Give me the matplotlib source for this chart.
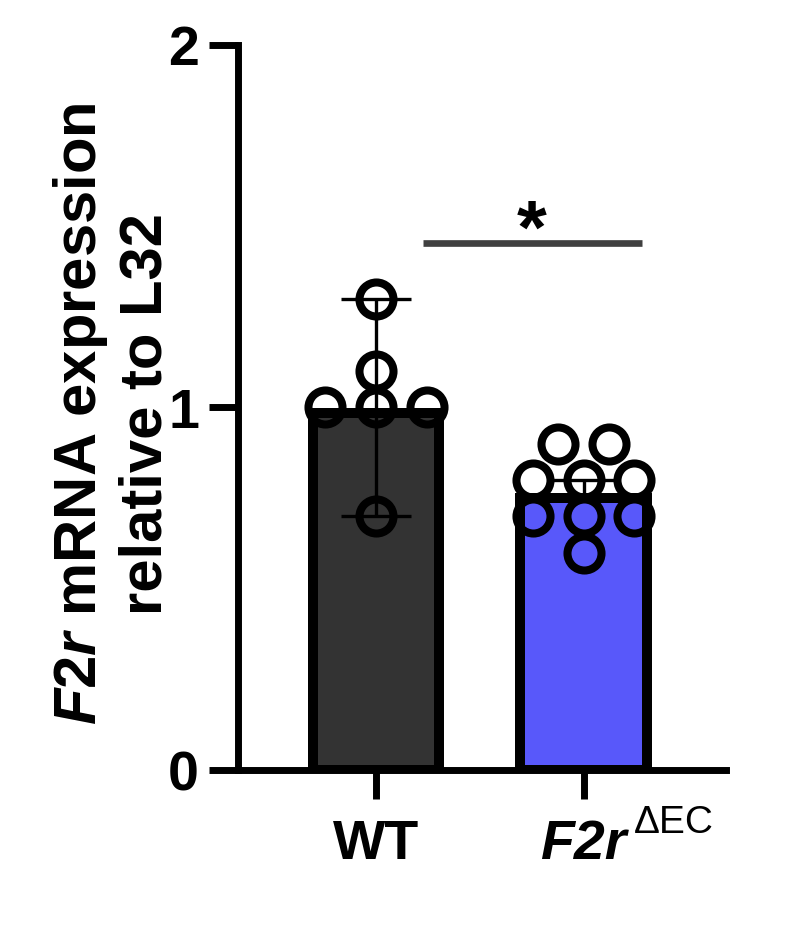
import numpy as np
import matplotlib.pyplot as plt

plt.rcParams['font.family'] = 'Liberation Sans'
plt.rcParams['font.weight'] = 'bold'
plt.rcParams['mathtext.fontset'] = 'custom'
plt.rcParams['mathtext.it'] = 'Liberation Sans:italic:bold'
plt.rcParams['mathtext.rm'] = 'Liberation Sans:bold'

# data
groups = ['WT', 'F2r']
bar_means = [0.985, 0.75]
bar_colors = ['#333333', '#5858FA']
wt_vals = [1.30, 1.10, 1.00, 1.00, 1.00, 0.70]
wt_jitter = [0, 0, -0.245, 0, 0.245, 0]
ko_vals = [0.90, 0.90, 0.80, 0.80, 0.80, 0.70, 0.70, 0.70, 0.60]
ko_jitter = [-0.123, 0.123, -0.243, 0, 0.245, -0.243, 0, 0.245, 0]
wt_err = (0.70, 1.30)
ko_err_top = 0.80
sig_y = 1.454

fig = plt.figure(figsize=(7.86, 9.30), dpi=100)
ax = fig.add_axes([238/786, 160/930, 487.7/786, 725/930])

x = np.arange(len(groups))
ax.bar(x, bar_means, width=0.61, color=bar_colors, edgecolor='black',
       linewidth=7.2, zorder=2)

# error bars (WT: both ways, KO: upward only)
ax.errorbar([x[0]], [bar_means[0]],
            yerr=[[bar_means[0] - wt_err[0]], [wt_err[1] - bar_means[0]]],
            fmt='none', ecolor='black', elinewidth=2.4, capsize=25,
            capthick=2.4, zorder=3)
ax.errorbar([x[1]], [bar_means[1]],
            yerr=[[0], [ko_err_top - bar_means[1]]],
            fmt='none', ecolor='black', elinewidth=2.4, capsize=23,
            capthick=2.4, zorder=3)

# individual points
ax.plot(x[0] + np.array(wt_jitter), wt_vals, 'o', mfc='none', mec='black',
        ms=24.5, mew=5.8, zorder=4, clip_on=False)
ax.plot(x[1] + np.array(ko_jitter), ko_vals, 'o', mfc='none', mec='black',
        ms=24.5, mew=5.8, zorder=4, clip_on=False)

# significance
ax.plot([0.227, 1.28], [sig_y, sig_y], color='#404040', lw=4.8,
        solid_capstyle='butt')
ax.text(0.752, sig_y - 0.07, '*', ha='center', va='bottom', fontsize=55,
        fontweight='bold')

ax.set_xlim(-0.665, 1.685)
ax.set_ylim(0, 2)
ax.set_yticks([0, 1, 2])
ax.set_xticks(x)
ax.set_xticklabels(groups)
ax.get_xticklabels()[1].set_style('italic')
ax.tick_params(axis='both', width=5, length=21, labelsize=40, color='black')
ax.tick_params(axis='y', pad=7)
ax.tick_params(axis='x', pad=14)

for side in ['top', 'right']:
    ax.spines[side].set_visible(False)
for side in ['left', 'bottom']:
    ax.spines[side].set_linewidth(5)
    ax.spines[side].set_capstyle('projecting')

ax.annotate('ΔEC', xy=(1, 0), xycoords=('data', 'axes fraction'),
            xytext=(36, -45), textcoords='offset points', ha='left',
            va='baseline', fontsize=28, fontweight='normal')

fig.text(112/786, 1 - 414/930,
         '$\\mathit{F2r}$ mRNA expression\nrelative to L32',
         rotation=90, ha='center', va='center', fontsize=43,
         fontweight='bold')

fig.savefig('out.png', dpi=100)
